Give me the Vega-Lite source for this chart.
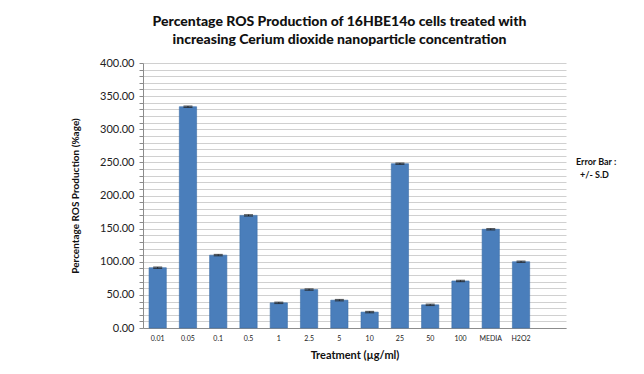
{
  "$schema": "https://vega.github.io/schema/vega-lite/v6.json",
  "autosize": {"type": "none"},
  "width": 423,
  "height": 265,
  "padding": {"left": 143, "top": 63, "right": 78, "bottom": 46},
  "background": "white",
  "title": {
    "text": ["Percentage ROS Production of 16HBE14o cells treated with", "increasing Cerium dioxide nanoparticle concentration"],
    "font": "Lato",
    "fontSize": 14,
    "fontWeight": 900,
    "color": "#111111",
    "anchor": "middle",
    "dx": -15,
    "offset": 10,
    "lineHeight": 18
  },
  "data": {
    "values": [
      {"Treatment": "0.01", "ROS": 91, "lo": 90, "hi": 92},
      {"Treatment": "0.05", "ROS": 334, "lo": 333, "hi": 335},
      {"Treatment": "0.1", "ROS": 110, "lo": 109, "hi": 111},
      {"Treatment": "0.5", "ROS": 170, "lo": 169, "hi": 171},
      {"Treatment": "1", "ROS": 38, "lo": 37, "hi": 39},
      {"Treatment": "2.5", "ROS": 58, "lo": 57, "hi": 59},
      {"Treatment": "5", "ROS": 42, "lo": 41, "hi": 43},
      {"Treatment": "10", "ROS": 24, "lo": 23, "hi": 25},
      {"Treatment": "25", "ROS": 248, "lo": 247, "hi": 249},
      {"Treatment": "50", "ROS": 35, "lo": 34, "hi": 36},
      {"Treatment": "100", "ROS": 71, "lo": 70, "hi": 72},
      {"Treatment": "MEDIA", "ROS": 149, "lo": 148, "hi": 150},
      {"Treatment": "H2O2", "ROS": 100, "lo": 99, "hi": 101}
    ]
  },
  "encoding": {
    "x": {
      "field": "Treatment",
      "type": "nominal",
      "sort": null,
      "scale": {
        "domain": ["0.01", "0.05", "0.1", "0.5", "1", "2.5", "5", "10", "25", "50", "100", "MEDIA", "H2O2", " "],
        "paddingInner": 0.43,
        "paddingOuter": 0.2
      },
      "axis": {
        "title": "Treatment (µg/ml)",
        "titleFont": "Lato",
        "titleFontSize": 11,
        "titleFontWeight": "bold",
        "titleColor": "#111111",
        "titlePadding": 8,
        "labelFont": "Lato",
        "labelFontSize": 7,
        "labelColor": "#222222",
        "labelAngle": 0,
        "labelPadding": 6,
        "ticks": false,
        "domainColor": "#8c8c8c",
        "grid": false
      }
    }
  },
  "layer": [
    {
      "mark": {"type": "bar", "color": "#4A7EBB", "stroke": "#3c6ea8", "strokeWidth": 0.6},
      "encoding": {
        "y": {
          "field": "ROS",
          "type": "quantitative",
          "title": "Percentage ROS Production (%age)",
          "scale": {"domain": [0, 400], "nice": false},
          "axis": {
            "titleFont": "Lato",
            "titleFontSize": 10,
            "titleFontWeight": "bold",
            "titleColor": "#111111",
            "titlePadding": 19,
            "labelFont": "Lato",
            "labelFontSize": 11,
            "labelColor": "#222222",
            "labelPadding": 5,
            "values": [0, 10, 20, 30, 40, 50, 60, 70, 80, 90, 100, 110, 120, 130, 140, 150, 160, 170, 180, 190, 200, 210, 220, 230, 240, 250, 260, 270, 280, 290, 300, 310, 320, 330, 340, 350, 360, 370, 380, 390, 400],
            "labelExpr": "datum.value % 50 === 0 ? format(datum.value, '.2f') : ''",
            "tickSize": 4,
            "tickColor": "#8c8c8c",
            "domainColor": "#8c8c8c",
            "grid": true,
            "gridColor": "#d0d0d0",
            "gridWidth": 1
          }
        }
      }
    },
    {
      "mark": {"type": "errorbar", "ticks": {"size": 9, "thickness": 1.2}},
      "encoding": {
        "y": {
          "field": "lo",
          "type": "quantitative",
          "title": "Percentage ROS Production (%age)",
          "scale": {"domain": [0, 400], "nice": false},
          "axis": {
            "titleFont": "Lato",
            "titleFontSize": 10,
            "titleFontWeight": "bold",
            "titleColor": "#111111",
            "titlePadding": 19,
            "labelFont": "Lato",
            "labelFontSize": 11,
            "labelColor": "#222222",
            "labelPadding": 5,
            "values": [0, 10, 20, 30, 40, 50, 60, 70, 80, 90, 100, 110, 120, 130, 140, 150, 160, 170, 180, 190, 200, 210, 220, 230, 240, 250, 260, 270, 280, 290, 300, 310, 320, 330, 340, 350, 360, 370, 380, 390, 400],
            "labelExpr": "datum.value % 50 === 0 ? format(datum.value, '.2f') : ''",
            "tickSize": 4,
            "tickColor": "#8c8c8c",
            "domainColor": "#8c8c8c",
            "grid": true,
            "gridColor": "#d0d0d0",
            "gridWidth": 1
          }
        },
        "y2": {"field": "hi"},
        "color": {
          "datum": "+/- S.D",
          "type": "nominal",
          "scale": {"range": ["#222222"]},
          "legend": {
            "title": "Error Bar :",
            "orient": "none",
            "legendX": 433,
            "legendY": 95,
            "titleFont": "Lato",
            "titleFontSize": 9,
            "titleFontWeight": "bold",
            "titleColor": "#111111",
            "labelFont": "Lato",
            "labelFontSize": 9,
            "labelFontWeight": "bold",
            "labelColor": "#111111",
            "symbolOpacity": 0,
            "symbolSize": 0,
            "labelOffset": -5,
            "titlePadding": 3
          }
        }
      }
    }
  ],
  "config": {"view": {"stroke": null}}
}
